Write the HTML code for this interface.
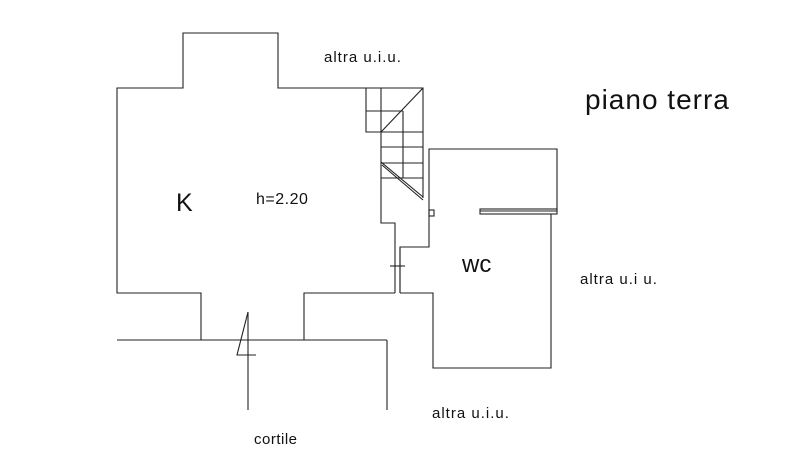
<!DOCTYPE html>
<html><head><style>
body{margin:0;background:#fff;width:800px;height:472px;overflow:hidden}
svg{display:block}
text{font-family:"Liberation Sans",sans-serif;fill:#111}
</style></head><body>
<svg width="800" height="472" viewBox="0 0 800 472" stroke="#222" stroke-width="1.1" fill="none">
<!-- main room -->
<polyline points="366,88 278,88 278,33 183,33 183,88 117,88 117,293 201,293 201,340"/>
<line x1="117" y1="340" x2="387" y2="340"/>
<line x1="387" y1="340" x2="387" y2="410"/>
<polyline points="304,340 304,293 395,293"/>
<!-- stair -->
<polyline points="366,88 423,88 423,198"/>
<polyline points="366,88 366,132 381,132 381,223 395,223 395,293"/>
<polyline points="400,293 400,247 429,247 429,149 557,149 557,211 480,211"/>
<rect x="480" y="209" width="77" height="5"/>
<polyline points="551,214 551,368 433,368 433,293 400,293"/>
<line x1="400" y1="248" x2="400" y2="293"/>
<line x1="390" y1="266" x2="405" y2="266"/>
<rect x="429" y="210" width="5" height="6"/>
<line x1="381" y1="88" x2="381" y2="132"/>
<line x1="366" y1="111" x2="403" y2="111"/>
<line x1="403" y1="111" x2="403" y2="178"/>
<line x1="381" y1="132" x2="423" y2="132"/>
<line x1="381" y1="147" x2="423" y2="147"/>
<line x1="381" y1="163" x2="423" y2="163"/>
<line x1="381" y1="178" x2="423" y2="178"/>
<line x1="423" y1="88" x2="381" y2="132"/>
<line x1="381" y1="162" x2="423" y2="197"/>
<line x1="382" y1="165" x2="423" y2="200"/>
<!-- door swing -->
<line x1="248" y1="312" x2="248" y2="410"/>
<polyline points="248,312 237,355 256,355"/>
<g stroke="none">
<text x="324" y="62" font-size="15" letter-spacing="1">altra u.i.u.</text>
<text x="585" y="109" font-size="28" letter-spacing="1">piano terra</text>
<text x="176" y="211" font-size="25">K</text>
<text x="256" y="204" font-size="16" letter-spacing="0.5">h=2.20</text>
<text x="462" y="272" font-size="24">wc</text>
<text x="580" y="284" font-size="15" letter-spacing="1">altra u.i u.</text>
<text x="432" y="418" font-size="15" letter-spacing="1">altra u.i.u.</text>
<text x="254" y="444" font-size="15" letter-spacing="0.5">cortile</text>
</g>
</svg>
</body></html>
